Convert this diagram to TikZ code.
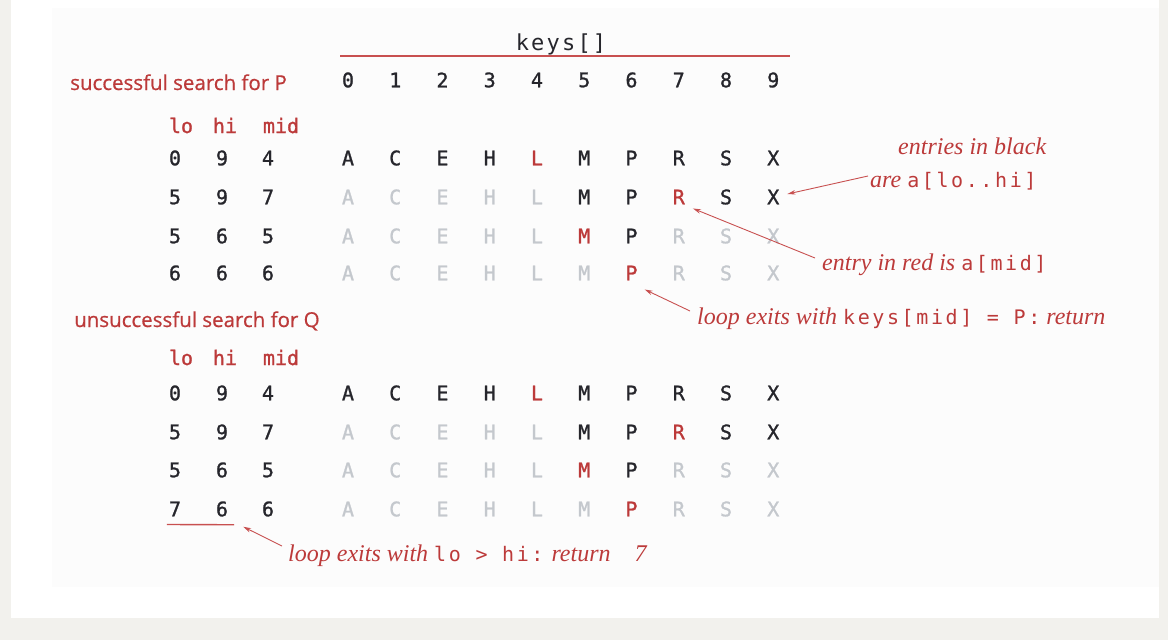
\documentclass[tikz,border=0pt]{standalone}
\usepackage{fontspec}
\setmonofont{DejaVu Sans Mono}
\newfontfamily\monols[LetterSpace=13]{DejaVu Sans Mono}
\newfontfamily\monokeys[LetterSpace=10]{DejaVu Sans Mono}
\newfontfamily\monobf[FakeBold=1.2]{DejaVu Sans Mono}
\newfontfamily\labsans[FakeBold=0.6]{Open Sans}
\newfontfamily\annserif{Liberation Serif}
\usetikzlibrary{arrows.meta}
\definecolor{bggray}{RGB}{242,241,237}
\definecolor{offwhite}{RGB}{252,252,252}
\definecolor{myred}{RGB}{188,58,58}
\definecolor{linered}{RGB}{200,80,80}
\definecolor{ink}{RGB}{38,38,44}
\definecolor{lgray}{RGB}{196,200,205}
\tikzset{
  cell/.style={inner sep=0pt, font=\fontsize{20}{24}\selectfont\monobf, text=ink},
  hdr/.style={inner sep=0pt, anchor=base, font=\fontsize{20}{24}\selectfont\monobf, text=myred},
  lab/.style={inner sep=0pt, anchor=base west, font=\fontsize{20.5}{24}\selectfont\labsans, text=myred},
  ann/.style={inner sep=0pt, anchor=base west, font=\fontsize{24}{28}\selectfont\annserif\itshape, text=myred},
  ptr/.style={draw=linered, line width=0.9pt, -{Stealth[length=8pt,width=4.5pt]}},
  rule/.style={draw=linered, line width=1.4pt},
}
\newcommand{\mt}[1]{{\fontsize{20}{24}\selectfont\monols\upshape #1}}
\begin{document}
\begin{tikzpicture}[x=1pt,y=-1pt]
\useasboundingbox (0,0) rectangle (1168,640);
\fill[bggray] (0,0) rectangle (1168,640);
\fill[white] (11,0) rectangle (1159,618);
\fill[offwhite] (52,8) rectangle (1159,587);

% header
\node[inner sep=0pt, anchor=base, font=\fontsize{22}{26}\selectfont\monokeys, text=ink] (keys) at (561,50) {keys[]};
\draw[rule] (340,56) -- (790,56);
\foreach \i in {0,...,9} {
  \node[cell] (idx-\i) at ({348+47.25*\i},80) {\i};
}

% labels
\node[lab] (lab-s) at (70,90) {successful search for P};
\node[lab] (lab-u) at (74,327) {unsuccessful search for Q};
\node[hdr] (s-lo) at (181,133) {lo};
\node[hdr] (s-hi) at (225,133) {hi};
\node[hdr] (s-mid) at (281,133) {mid};
\node[hdr] (u-lo) at (181,365) {lo};
\node[hdr] (u-hi) at (225,365) {hi};
\node[hdr] (u-mid) at (281,365) {mid};

% rows
\foreach \pre/\r/\y/\lo/\hi/\mid in {s/1/158/0/9/4, s/2/197/5/9/7, s/3/236/5/6/5, s/4/273/6/6/6,
                                    u/1/393/0/9/4, u/2/432/5/9/7, u/3/470/5/6/5, u/4/509/7/6/6} {
  \node[cell] (\pre\r-lo) at (175,\y) {\lo};
  \node[cell] (\pre\r-hi) at (222,\y) {\hi};
  \node[cell] (\pre\r-mid) at (268,\y) {\mid};
  \foreach \i/\ch in {0/A,1/C,2/E,3/H,4/L,5/M,6/P,7/R,8/S,9/X} {
    \ifnum\i=\mid \def\cc{myred}\else
      \ifnum\i<\lo \def\cc{lgray}\else
        \ifnum\i>\hi \def\cc{lgray}\else \def\cc{ink}\fi
      \fi
    \fi
    \node[cell, text=\cc] (\pre\r-\i) at ({348+47.25*\i},\y) {\ch};
  }
}

% annotations
\node[ann] (ann1a) at (898,154) {entries in black};
\node[ann] (ann1b) at (870,187) {are \mt{a[lo..hi]}};
\node[ann] (ann2) at (822,270) {entry in red is \mt{a[mid]}};
\node[ann] (ann3) at (697,324) {loop exits with \mt{keys[mid] = P:} return};
\node[ann] (ann4) at (288,561) {loop exits with \mt{lo > hi:} return\quad 7};

\draw[ptr] ([xshift=-2pt,yshift=11pt]ann1b.base west) -- ([xshift=8pt,yshift=3pt]s2-9.east);
\draw[ptr] ([xshift=-7pt,yshift=12pt]ann2.base west) -- ([xshift=8pt,yshift=-4pt]s2-7.south east);
\draw[ptr] ([xshift=-7pt,yshift=13pt]ann3.base west) -- ([xshift=7pt,yshift=-9pt]s4-6.south east);

% underline lo > hi
\coordinate (ul-a) at ([xshift=-2pt,yshift=-8pt]u4-lo.south west);
\coordinate (ul-b) at ([xshift=6pt,yshift=-8pt]u4-hi.south east);
\draw[rule] (ul-a) -- (ul-b);
\draw[ptr] ([xshift=-6pt,yshift=15pt]ann4.base west) -- ([xshift=9pt,yshift=-2pt]ul-b);
\end{tikzpicture}
\end{document}
